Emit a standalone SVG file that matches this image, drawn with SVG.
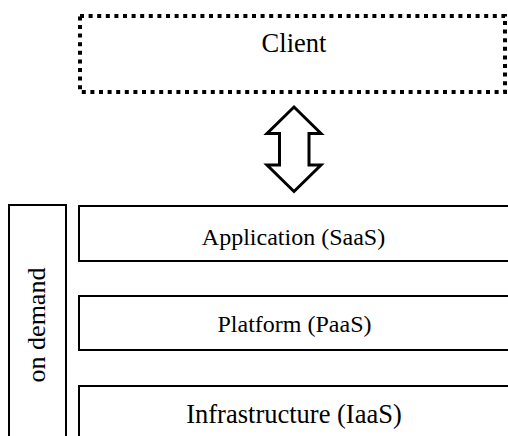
<svg xmlns="http://www.w3.org/2000/svg" width="508" height="436" viewBox="0 0 508 436">
<style>
.t{font-family:"Liberation Serif","Times New Roman",serif;fill:#000;text-anchor:middle}
.box{fill:#fff;stroke:#000;stroke-width:2}
</style>
<rect width="508" height="436" fill="#fff"/>
<g id="client">
<rect x="80" y="16" width="425" height="76" fill="#fff" stroke="#000" stroke-width="4" stroke-dasharray="4 4.6"/>
<text class="t" x="294" y="52" font-size="26.5">Client</text>
</g>
<g id="connectors">
<polygon points="294,107 321,133.5 309,133.5 309,165 321,165 294,191.5 267,165 279.5,165 279.5,133.5 267,133.5" fill="#fff" stroke="#000" stroke-width="3" stroke-linejoin="miter"/>
</g>
<g id="on-demand">
<rect class="box" x="9" y="205" width="57" height="240"/>
<text class="t" transform="translate(44.5,325) rotate(-90)" font-size="26">on demand</text>
</g>
<g id="saas">
<rect class="box" x="79" y="206" width="440" height="55"/>
<text class="t" x="293.5" y="245" font-size="24">Application (SaaS)</text>
</g>
<g id="paas">
<rect class="box" x="79" y="296" width="440" height="54"/>
<text class="t" x="294.5" y="331.5" font-size="24">Platform (PaaS)</text>
</g>
<g id="iaas">
<rect class="box" x="79" y="386" width="440" height="60"/>
<text class="t" x="294" y="423" font-size="26.5">Infrastructure (IaaS)</text>
</g>
</svg>
